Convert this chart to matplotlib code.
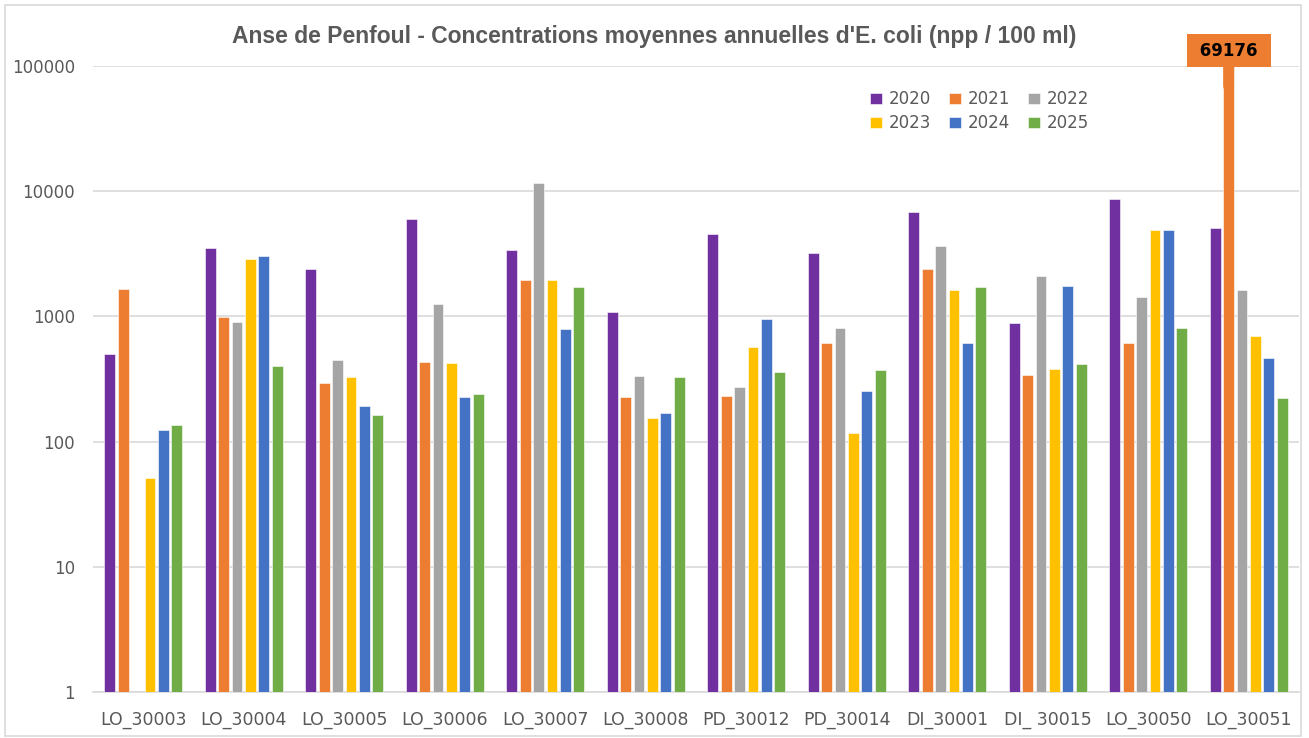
import numpy as np
import matplotlib.pyplot as plt
from matplotlib.patches import Rectangle

sites = ['LO_30003', 'LO_30004', 'LO_30005', 'LO_30006', 'LO_30007', 'LO_30008',
         'PD_30012', 'PD_30014', 'DI_30001', 'DI_ 30015', 'LO_30050', 'LO_30051']
years = ['2020', '2021', '2022', '2023', '2024', '2025']
couleurs = ['#7030A0', '#ED7D31', '#A5A5A5', '#FFC000', '#4472C4', '#70AD47']

v2020 = [504, 3520, 2370, 6030, 3400, 1081, 4510, 3220, 6840, 883, 8630, 5110]
v2021 = [1645, 990, 295, 436, 1970, 226, 232, 611, 2370, 341, 618, 69176]
v2022 = [np.nan, 902, 450, 1259, 11660, 337, 274, 815, 3660, 2110, 1416, 1630]
v2023 = [51, 2890, 327, 426, 1970, 155, 571, 118, 1640, 381, 4890, 703]
v2024 = [123, 3035, 193, 229, 791, 170, 957, 255, 618, 1740, 4940, 467]
v2025 = [135, 402, 162, 239, 1720, 327, 361, 374, 1720, 413, 811, 221]
valeurs = [v2020, v2021, v2022, v2023, v2024, v2025]

gris = '#595959'
ligne = '#D9D9D9'

fig = plt.figure(figsize=(13.09, 7.38), dpi=100)
ax = fig.add_axes([93 / 1309, 46 / 738, 1206 / 1309, 626 / 738])

x = np.arange(len(sites))
pas = 0.133
larg = 0.108
barres = []
for i, (an, vals, c) in enumerate(zip(years, valeurs, couleurs)):
    b = ax.bar(x + (i - 2.5) * pas, vals, width=larg, color=c, label=an,
               edgecolor='white', linewidth=0.4, zorder=3)
    barres.append(b)

ax.set_yscale('log')
ax.set_ylim(1, 100000)
ax.set_xlim(-0.5, len(sites) - 0.5)
ax.set_yticks([1, 10, 100, 1000, 10000, 100000])
ax.set_yticklabels(['1', '10', '100', '1000', '10000', '100000'])
ax.minorticks_off()
ax.set_xticks(x)
ax.set_xticklabels(sites)
ax.tick_params(axis='both', length=0, colors=gris)
ax.tick_params(axis='y', pad=13, labelsize=12)
ax.tick_params(axis='x', pad=14, labelsize=12.5)
for lab in ax.get_xticklabels() + ax.get_yticklabels():
    lab.set_family('DejaVu Sans')
for s in ['left', 'right', 'top']:
    ax.spines[s].set_visible(False)
ax.spines['bottom'].set_color(ligne)
ax.spines['bottom'].set_linewidth(1.2)
ax.grid(axis='y', color=ligne, linewidth=1.2, zorder=0)

# etiquette de la valeur max, posee au-dessus du cadre
imax = int(np.nanargmax(v2021))
xb = x[imax] + (1 - 2.5) * pas
ax.annotate(' ' + str(v2021[imax]) + ' ', (xb, v2021[imax]), xytext=(xb, 1.12e5),
            textcoords='data', ha='center', va='bottom', fontsize=12,
            fontweight='bold', family='DejaVu Sans', color='black',
            annotation_clip=False, zorder=5,
            bbox=dict(boxstyle='square,pad=0.45', fc='#ED7D31', ec='none'),
            arrowprops=dict(arrowstyle='-', color='#ED7D31', lw=8,
                            shrinkA=0, shrinkB=0))

ordre = [0, 3, 1, 4, 2, 5]
leg = ax.legend([barres[k] for k in ordre], [years[k] for k in ordre], ncol=3,
                loc='upper left', bbox_to_anchor=(0.632, 0.985), frameon=False,
                fontsize=12, handlelength=0.7, handleheight=0.7,
                handletextpad=0.4, columnspacing=1.1, labelspacing=0.35)
for t in leg.get_texts():
    t.set_color(gris)

fig.text(0.5, 0.951, "Anse de Penfoul - Concentrations moyennes annuelles d'E. coli (npp / 100 ml)",
         ha='center', va='center', fontsize=16.5, fontweight='bold', color=gris,
         family='Liberation Sans')

fig.patches.append(Rectangle((5 / 1309, 2 / 738), 1296 / 1309, 731 / 738,
                             transform=fig.transFigure, fill=False,
                             edgecolor=ligne, linewidth=1.2))

fig.savefig('out.png', dpi=100)
